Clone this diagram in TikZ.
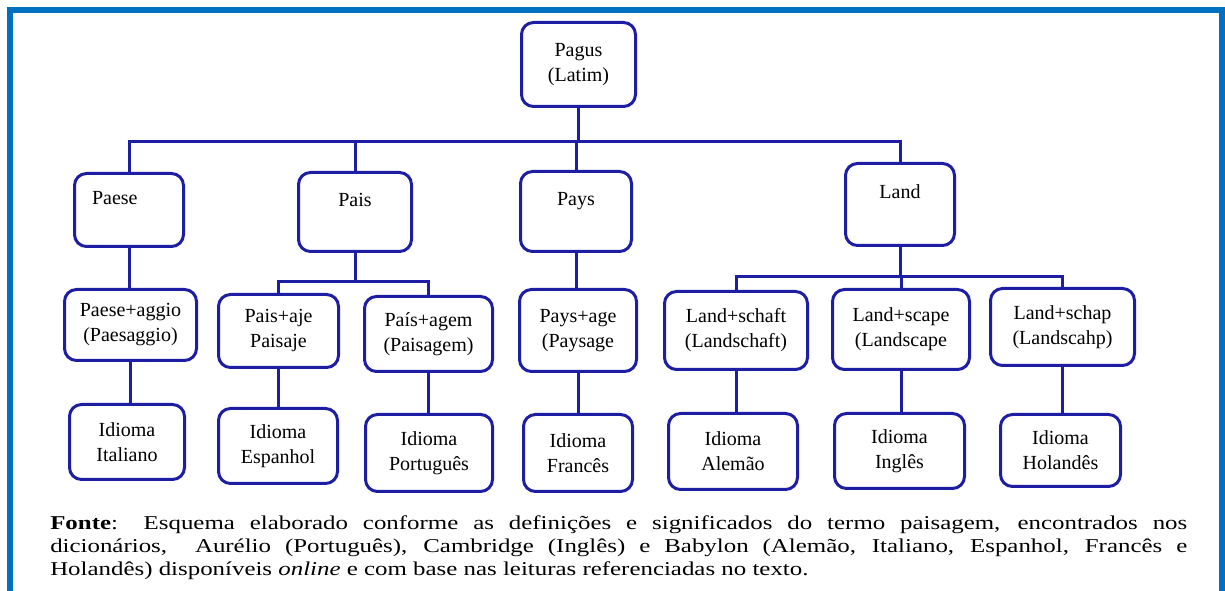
\documentclass[tikz,border=0pt]{standalone}
\usepackage{fontspec}
\setmainfont{Liberation Serif}
\newfontfamily\notefont[FakeStretch=1.27]{Liberation Serif}
\definecolor{framecol}{RGB}{0,112,192}
\definecolor{boxcol}{RGB}{30,30,165}

\tikzset{
  box/.style n args={2}{draw=boxcol, line width=2.25pt, rounded corners=9pt, fill=white,
    inner sep=0pt, align=center,
    minimum width={(#1-3)*0.75pt}, minimum height={(#2-3)*0.75pt},
    font=\rmfamily\fontsize{15}{18.75}\selectfont},
  link/.style={draw=boxcol, line width=2.25pt},
  note/.style={anchor=north west, inner sep=0pt, text width=852.75pt, align=justify,
    font=\notefont\fontsize{14.7}{17.4}\selectfont}
}

\begin{document}
\begin{tikzpicture}[x=0.75pt,y=-0.75pt]

\useasboundingbox (0,0) rectangle (1225,591);
\fill[white] (0,0) rectangle (1225,591);

% outer frame, open at the bottom
\draw[framecol, line width=4.5pt] (10,600) -- (10,10) -- (1222,10) -- (1222,600);

% root
\node[box={117}{87}] (pagus) at (578.5,64.5) {Pagus\\(Latim)};

% first level
\node[box={112}{76}, align=left, text width=55.5pt] (paese) at (129,210) {Paese\\~};
\node[box={116}{82}] (pais) at (355,212) {Pais\\~};
\node[box={114}{83}] (pays) at (576,211.5) {Pays\\~};
\node[box={112}{85}] (land) at (900,204.5) {Land\\~};

% second level
\node[box={135}{74}] (paeseag) at (130.5,325) {Paese+aggio\\(Paesaggio)};
\node[box={123}{76}] (paisaje) at (278.5,331) {Pais+aje\\Paisaje};
\node[box={131}{78}] (paisagem) at (428.5,334) {País+agem\\(Paisagem)};
\node[box={120}{85}] (paysage) at (578,330.5) {Pays+age\\(Paysage};
\node[box={146}{81}] (schaft) at (736,330.5) {Land+schaft\\(Landschaft)};
\node[box={140}{83}] (scape) at (901,329.5) {Land+scape\\(Landscape};
\node[box={147}{80}] (schap) at (1062.5,327) {Land+schap\\(Landscahp)};

% languages
\node[box={118}{78}] (ita) at (127,442) {Idioma\\Italiano};
\node[box={122}{78}] (esp) at (278,446) {Idioma\\Espanhol};
\node[box={130}{80}] (por) at (429,453) {Idioma\\Português};
\node[box={112}{80}] (fra) at (578,453) {Idioma\\Francês};
\node[box={132}{79}] (ale) at (733,451.5) {Idioma\\Alemão};
\node[box={133}{78}] (ing) at (899.5,451) {Idioma\\Inglês};
\node[box={123}{75}] (hol) at (1060.5,450.5) {Idioma\\Holandês};

% bus lines
\coordinate (bus) at (0,142);
\coordinate (paisbus) at (0,282);
\coordinate (landbus) at (0,277);

\draw[link] (pagus.south) -- (pagus.south |- bus);
\draw[link] (paese.north) -- (paese.north |- bus) -- (land.north |- bus) -- (land.north);
\draw[link] (pais.north) -- (pais.north |- bus);
\draw[link] (pays.north) -- (pays.north |- bus);

\draw[link] (paese.south) -- (paese.south |- paeseag.north);
\draw[link] (pays.south) -- (pays.south |- paysage.north);

\draw[link] (pais.south) -- (pais.south |- paisbus);
\draw[link] (paisaje.north) -- (paisaje.north |- paisbus) -- (paisagem.north |- paisbus) -- (paisagem.north);

\draw[link] (land.south) -- (land.south |- landbus);
\draw[link] (schaft.north) -- (schaft.north |- landbus) -- (schap.north |- landbus) -- (schap.north);
\draw[link] (scape.north) -- (scape.north |- landbus);

\draw[link] (paeseag.south) -- (paeseag.south |- ita.north);
\draw[link] (paisaje.south) -- (paisaje.south |- esp.north);
\draw[link] (paisagem.south) -- (paisagem.south |- por.north);
\draw[link] (paysage.south) -- (paysage.south |- fra.north);
\draw[link] (schaft.south) -- (schaft.south |- ale.north);
\draw[link] (scape.south) -- (scape.south |- ing.north);
\draw[link] (schap.south) -- (schap.south |- hol.north);

% source note
\node[note] (fonte) at (50,515) {\textbf{Fonte}: Esquema elaborado conforme as definições e significados do termo paisagem, encontrados nos\linebreak dicionários,\ \ Aurélio (Português), Cambridge (Inglês) e Babylon (Alemão, Italiano, Espanhol, Francês e\linebreak Holandês) disponíveis \textit{online} e com base nas leituras referenciadas no texto.};

\end{tikzpicture}
\end{document}
